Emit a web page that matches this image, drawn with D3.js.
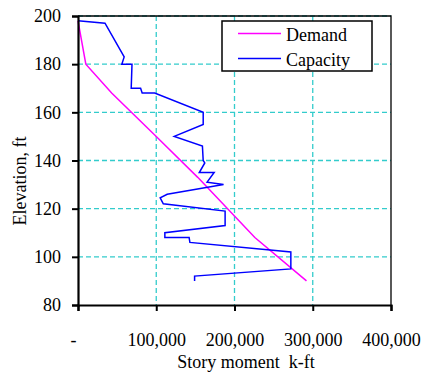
<!DOCTYPE html>
<html>
<head>
<meta charset="utf-8">
<script src="https://cdn.jsdelivr.net/npm/d3@7"></script>
<style>
  body { margin: 0; background: #fff; }
  text { font-family: "Liberation Serif", "Times New Roman", serif; fill: #000; }
</style>
</head>
<body>
<svg width="422" height="374"></svg>
<script>
// Demand curve (story moment k-ft vs elevation ft)
const demandMoment = [0, 10000, 43000, 100000, 153000, 226000, 292000];
const demandElev   = [198, 180, 168, 150, 133, 108, 90];

// Capacity curve
const capacityMoment = [0, 34500, 59000, 56000, 69000, 68000, 80000, 82000, 98000,
    160000, 160000, 123000, 159000, 160000, 162000, 155000, 174000, 165000, 186000,
    114000, 105000, 109000, 188000, 188000, 111000, 111000, 142000, 143000,
    272000, 272000, 149000, 149000];
const capacityElev = [198, 197, 183, 180, 180, 170, 170, 168, 168,
    160, 155, 150, 146, 140, 139, 135, 135, 131, 130,
    126, 124.5, 122, 119, 113, 110, 108, 108, 106,
    102, 95, 92, 90];

const xTicks = [0, 100000, 200000, 300000, 400000];
const yTicks = [80, 100, 120, 140, 160, 180, 200];
const seriesNames = ["Demand", "Capacity"];
const seriesColors = ["#FF00FF", "#0000FF"];

const svg = d3.select("svg");
const plot = { left: 78, right: 391, top: 16, bottom: 305 };

const x = d3.scaleLinear().domain([0, 400000]).range([plot.left, plot.right]);
const y = d3.scaleLinear().domain([80, 200]).range([plot.bottom, plot.top]);

// gridlines
const grid = svg.append("g")
    .attr("stroke", "#33CCCC")
    .attr("stroke-width", 1.3)
    .attr("stroke-dasharray", "5,3");
grid.selectAll(".gx").data(xTicks.slice(1, -1)).enter().append("line")
    .attr("x1", d => x(d)).attr("x2", d => x(d))
    .attr("y1", plot.top).attr("y2", plot.bottom);
grid.selectAll(".gy").data(yTicks.slice(1)).enter().append("line")
    .attr("y1", d => y(d)).attr("y2", d => y(d))
    .attr("x1", plot.left).attr("x2", plot.right);

// frame (top and right)
svg.append("path")
    .attr("d", `M${plot.left},${plot.top}H${plot.right}V${plot.bottom}`)
    .attr("fill", "none")
    .attr("stroke", "#000")
    .attr("stroke-width", 1.3);

// series
const line = d3.line().x(d => x(d[0])).y(d => y(d[1]));
const demand = demandMoment.map((m, i) => [m, demandElev[i]]);
const capacity = capacityMoment.map((m, i) => [m, capacityElev[i]]);

svg.append("path").datum(demand)
    .attr("d", line)
    .attr("fill", "none")
    .attr("stroke", seriesColors[0])
    .attr("stroke-width", 1.5);

svg.append("path").datum(capacity)
    .attr("d", line)
    .attr("fill", "none")
    .attr("stroke", seriesColors[1])
    .attr("stroke-width", 1.5);

// axes
const xAxis = svg.append("g")
    .attr("transform", `translate(0,${plot.bottom})`)
    .call(d3.axisBottom(x).tickValues(xTicks).tickSize(6).tickPadding(22)
        .tickFormat(d => d === 0 ? "-" : d3.format(",")(d)));
const yAxis = svg.append("g")
    .attr("transform", `translate(${plot.left},0)`)
    .call(d3.axisLeft(y).tickValues(yTicks).tickSize(6).tickPadding(11));

[xAxis, yAxis].forEach(a => {
    a.select(".domain").attr("stroke", "#000").attr("stroke-width", 2.2);
    a.selectAll(".tick line").attr("stroke", "#000").attr("stroke-width", 2);
    a.selectAll("text").style("font-size", "18px")
        .style("font-family", "'Liberation Serif', serif").attr("fill", "#000");
});
xAxis.selectAll(".tick text").filter(d => d === 0).attr("x", -5);

// axis titles
svg.append("text")
    .attr("x", 246).attr("y", 368)
    .attr("text-anchor", "middle")
    .style("font-size", "18px")
    .style("white-space", "pre")
    .text("Story moment  k-ft");

svg.append("text")
    .attr("transform", "translate(26,181) rotate(-90)")
    .attr("text-anchor", "middle")
    .style("font-size", "18px")
    .text("Elevation, ft");

// legend
const legend = svg.append("g");
legend.append("rect")
    .attr("x", 222).attr("y", 21).attr("width", 150).attr("height", 50)
    .attr("fill", "#fff").attr("stroke", "#000").attr("stroke-width", 1.5);
seriesNames.forEach((name, i) => {
    const ly = 33.5 + i * 25;
    legend.append("line")
        .attr("x1", 238).attr("x2", 281).attr("y1", ly).attr("y2", ly)
        .attr("stroke", seriesColors[i]).attr("stroke-width", 1.5);
    legend.append("text")
        .attr("x", 286).attr("y", ly + 7)
        .style("font-size", "18px")
        .text(name);
});
</script>
</body>
</html>
